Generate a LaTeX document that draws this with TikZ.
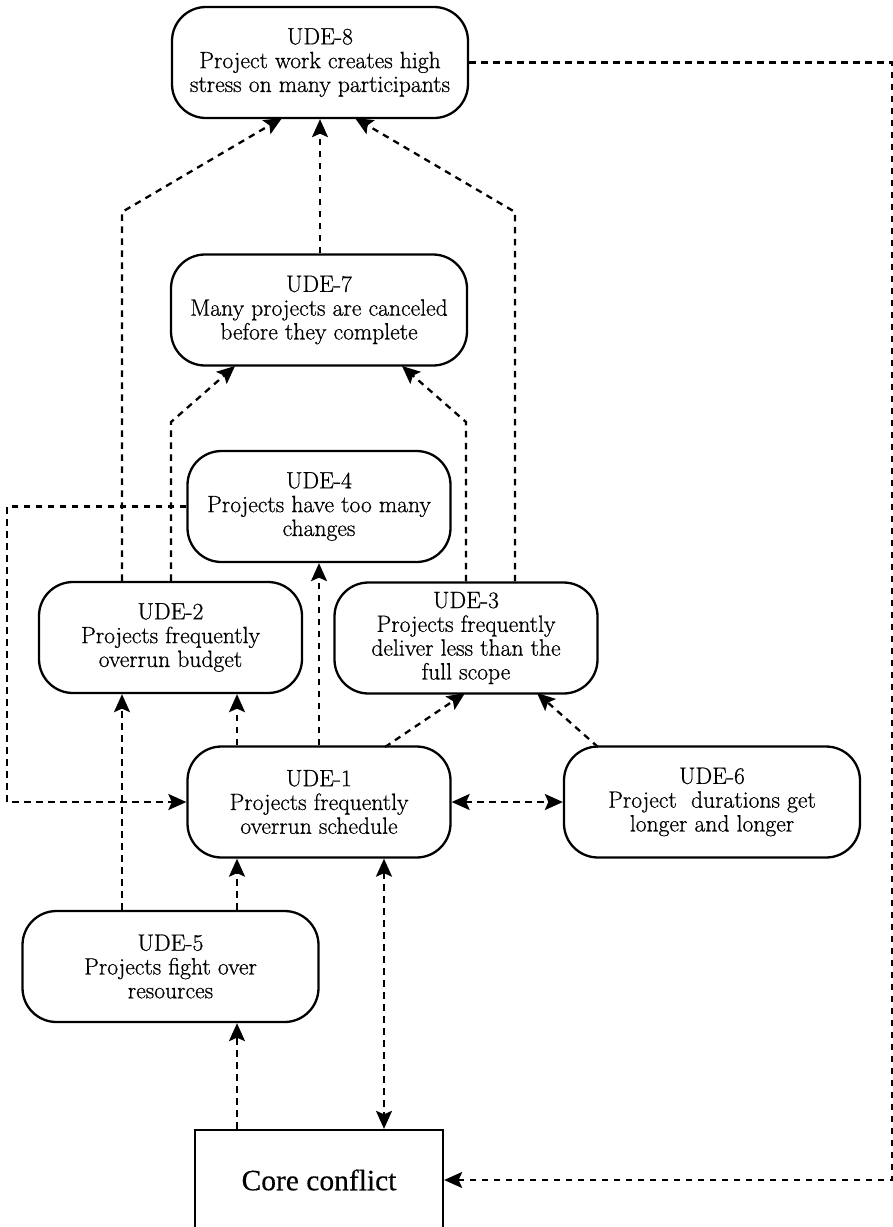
\documentclass[tikz,border=0pt]{standalone}
\usepackage{fontspec}
\newfontfamily\udefont[FakeBold=0.7]{Latin Modern Roman}
\newfontfamily\corefont[FakeBold=0.4]{Liberation Serif}
\usetikzlibrary{arrows.meta}
\begin{document}
\begin{tikzpicture}[x=1pt,y=-1pt,
  tip/.tip={Stealth[length=18pt,width=16pt,inset=3.5pt]},
  ude/.style={draw, line width=2.3pt, rounded corners=34pt, minimum height=111pt,
    align=center, inner sep=0pt, font=\udefont\fontsize{23.6}{23.8}\selectfont},
  narrowbox/.style={ude, minimum width=263pt},
  widebox/.style={ude, minimum width=296pt},
  link/.style={line width=2.3pt, dash pattern=on 6.5pt off 5.5pt, -tip},
  twoway/.style={link, tip-tip},
]
\useasboundingbox (0,0) rectangle (893,1227);

% effects
\node[widebox]   (u8) at (320,62.5)   {UDE-8\\Project work creates high\\stress on many participants};
\node[widebox]   (u7) at (319,310)    {UDE-7\\Many projects are canceled\\before they complete};
\node[narrowbox] (u4) at (319,506.5)  {UDE-4\\Projects have too many\\changes};
\node[narrowbox] (u2) at (170.5,637.5){UDE-2\\Projects frequently\\overrun budget};
\node[narrowbox] (u3) at (466,638)    {UDE-3\\Projects frequently\\deliver less than the\\full scope};
\node[narrowbox] (u1) at (319,802)    {UDE-1\\Projects frequently\\overrun schedule};
\node[widebox]   (u6) at (712,802)    {UDE-6\\Project\ \ durations get\\longer and longer};
\node[widebox]   (u5) at (170.5,966.5){UDE-5\\Projects fight over\\resources};
\node[draw, line width=2.3pt, minimum width=248pt, minimum height=100pt,
      font=\corefont\fontsize{29.5}{32}\selectfont] (cc) at (319,1180) {Core conflict};

% routing columns and bends
\coordinate (xa) at (122,0);
\coordinate (xb) at (171,0);
\coordinate (xc) at (237,0);
\coordinate (xd) at (384,0);
\coordinate (xe) at (466,0);
\coordinate (xf) at (515,0);
\coordinate (xl) at (7,0);
\coordinate (xr) at (892,0);
\coordinate (ka) at (122,212);
\coordinate (kf) at (515,212);
\coordinate (kb) at (171,422);
\coordinate (ke) at (466,422);

% into UDE-8
\draw[link] (u7.north -| u8.south) -- (u8.south);
\draw[link] (u2.north -| xa) -- (ka) -- (282,118);
\draw[link] (u3.north -| xf) -- (kf) -- (355,118);

% into UDE-7
\draw[link] (u2.north -| xb) -- (kb) -- (235,366);
\draw[link] (u3.north -| xe) -- (ke) -- (402,366);

% UDE-4 feeds back into UDE-1
\draw[link] (u4.west) -- (u4.west -| xl) -- (u1.west -| xl) -- (u1.west);

% out of UDE-1
\draw[link] (u1.north) -- (u4.south);
\draw[link] (u1.north -| xc) -- (u2.south -| xc);
\draw[link] (385,747) -- (465,693);
\draw[twoway] (u1.east) -- (u6.west);

% UDE-6 into UDE-3
\draw[link] (598,747) -- (537,693);

% out of UDE-5
\draw[link] (u5.north -| xa) -- (u2.south -| xa);
\draw[link] (u5.north -| xc) -- (u1.south -| xc);

% core conflict
\draw[link] (cc.north -| xc) -- (u5.south -| xc);
\draw[twoway] (u1.south -| xd) -- (cc.north -| xd);
\draw[link] (u8.east) -- (u8.east -| xr) -- (cc.east -| xr) -- (cc.east);
\end{tikzpicture}
\end{document}
